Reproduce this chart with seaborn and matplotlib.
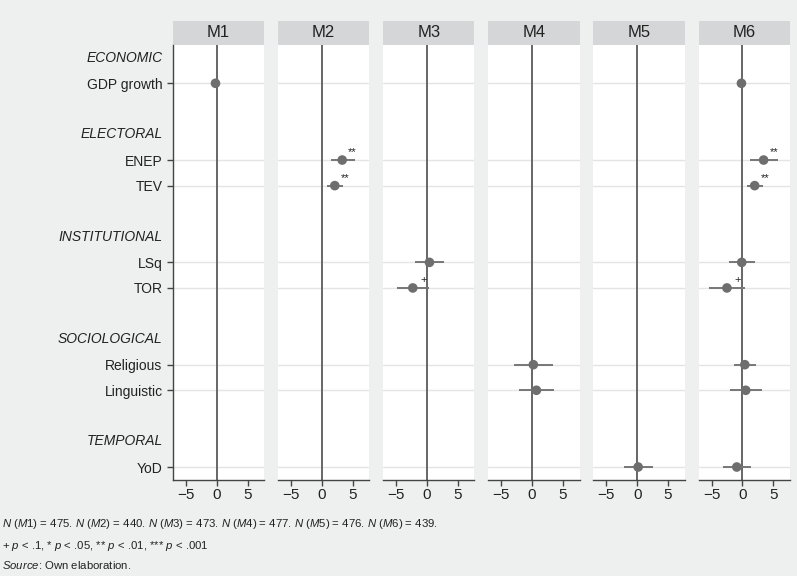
import numpy as np
import pandas as pd
import seaborn as sns
import matplotlib.pyplot as plt
from matplotlib.patches import Rectangle
from matplotlib import font_manager
import matplotlib.transforms as mtransforms

models = ['M1', 'M2', 'M3', 'M4', 'M5', 'M6']
row_labels = ['ECONOMIC', 'GDP growth', '', 'ELECTORAL', 'ENEP', 'TEV', '',
              'INSTITUTIONAL', 'LSq', 'TOR', '', 'SOCIOLOGICAL', 'Religious',
              'Linguistic', '', 'TEMPORAL', 'YoD']
group_rows = ['ECONOMIC', 'ELECTORAL', 'INSTITUTIONAL', 'SOCIOLOGICAL', 'TEMPORAL']

# coefficient estimates
coef_model = ['M1', 'M2', 'M2', 'M3', 'M3', 'M4', 'M4', 'M5',
              'M6', 'M6', 'M6', 'M6', 'M6', 'M6', 'M6', 'M6']
coef_var = ['GDP growth', 'ENEP', 'TEV', 'LSq', 'TOR', 'Religious', 'Linguistic', 'YoD',
            'GDP growth', 'ENEP', 'TEV', 'LSq', 'TOR', 'Religious', 'Linguistic', 'YoD']
coef_est = [-0.2, 3.3, 2.1, 0.4, -2.3, 0.2, 0.7, 0.15,
            -0.15, 3.45, 2.0, -0.1, -2.5, 0.4, 0.55, -0.9]
coef_lo = [-0.9, 1.5, 0.85, -2.0, -4.9, -2.9, -2.1, -2.2,
           -0.7, 1.2, 0.7, -2.2, -5.4, -1.4, -2.0, -3.2]
coef_hi = [0.5, 5.4, 3.4, 2.7, 0.25, 3.4, 3.55, 2.5,
           0.4, 5.8, 3.4, 2.05, 0.4, 2.15, 3.2, 1.35]
coef_sig = ['', '**', '**', '', '+', '', '', '',
            '', '**', '**', '', '+', '', '', '']

footnotes = [
    r'$N$ ($M$1) = 475. $N$ ($M$2) = 440. $N$ ($M$3) = 473. $N$ ($M$4) = 477. '
    r'$N$ ($M$5) = 476. $N$ ($M$6) = 439.',
    r'+ $p$ < .1, * $p$ < .05, ** $p$ < .01, *** $p$ < .001',
    r'$Source$: Own elaboration.',
]

df = pd.DataFrame({'model': coef_model, 'var': coef_var, 'est': coef_est,
                   'lo': coef_lo, 'hi': coef_hi, 'sig': coef_sig})
df['row'] = df['var'].map({lab: i for i, lab in enumerate(row_labels) if lab})

sns.set_theme(style='white')
plt.rcParams['font.family'] = ['Liberation Sans', 'DejaVu Sans']
plt.rcParams['mathtext.fontset'] = 'custom'

names = {f.name for f in font_manager.fontManager.ttflist}
if 'Liberation Sans Narrow' in names:
    note_font, note_size = 'Liberation Sans Narrow', 9.6
else:
    note_font, note_size = 'Liberation Sans', 8.2
plt.rcParams['mathtext.rm'] = note_font
plt.rcParams['mathtext.it'] = note_font + ':italic'

bg = '#eef0f0'
txt_col = '#222222'
fig, axes = plt.subplots(1, 6, sharey=True, figsize=(7.97, 5.76), dpi=100)
fig.patch.set_facecolor(bg)
fig.subplots_adjust(left=0.217, right=0.991, top=0.922, bottom=0.167, wspace=0.152)

item_rows = [i for i, lab in enumerate(row_labels) if lab and lab not in group_rows]

for ax, m in zip(axes, models):
    ax.set_facecolor('white')
    for r in item_rows:
        ax.axhline(r, color='#e4e4e4', lw=1, zorder=0.5)
    ax.axvline(0, color='#666666', lw=1.4, zorder=1)
    sub = df[df['model'] == m]
    ax.hlines(sub['row'], sub['lo'], sub['hi'], color='#777777', lw=1.4, zorder=2)
    sns.scatterplot(data=sub, x='est', y='row', ax=ax, s=48, color='#6e6e6e',
                    edgecolor='none', zorder=3, legend=False)
    for _, r in sub.iterrows():
        if r['sig']:
            ax.annotate(r['sig'], (r['est'], r['row']), xytext=(7.5, 3.5),
                        textcoords='offset points', ha='center', va='baseline',
                        fontsize=8, color=txt_col)
    ax.set_xlim(-7.1, 7.7)
    ax.set_ylim(16.5, -0.5)
    ax.set_xticks([-5, 0, 5])
    ax.set_xlabel('')
    ax.set_ylabel('')
    ax.tick_params(axis='x', length=4, width=1, color='#444444', labelsize=11,
                   labelcolor=txt_col, pad=2, bottom=True)
    for s in ['top', 'right', 'left']:
        ax.spines[s].set_visible(False)
    ax.spines['bottom'].set_color('#444444')
    ax.spines['bottom'].set_linewidth(1)
    ax.add_patch(Rectangle((0, 1), 1, 24 / 435, transform=ax.transAxes,
                           facecolor='#d5d6d7', edgecolor='none', clip_on=False))
    ax.text(0.5, 1 + 12 / 435, m, transform=ax.transAxes, ha='center', va='center',
            fontsize=12, color=txt_col)

ax0 = axes[0]
ax0.spines['left'].set_visible(True)
ax0.spines['left'].set_color('#444444')
ax0.spines['left'].set_linewidth(1)
ax0.set_yticks(item_rows)
ax0.set_yticklabels([row_labels[i] for i in item_rows])
ax0.tick_params(axis='y', length=4, width=1, color='#444444', labelsize=10,
                labelcolor=txt_col, pad=3.5, left=True)
for ax in axes[1:]:
    ax.tick_params(axis='y', left=False, labelleft=False)

head_trans = mtransforms.offset_copy(ax0.get_yaxis_transform(), fig=fig, x=-7.5, y=0,
                                     units='points')
for i, lab in enumerate(row_labels):
    if lab in group_rows:
        ax0.text(0, i, lab, transform=head_trans, ha='right', va='center',
                 fontsize=10, style='italic', color=txt_col)

for y, line in zip([0.085, 0.047, 0.012], footnotes):
    fig.text(0.003, y, line, ha='left', va='baseline', fontsize=note_size,
             family=note_font, color=txt_col)

fig.savefig('out.png', dpi=100, facecolor=bg)
